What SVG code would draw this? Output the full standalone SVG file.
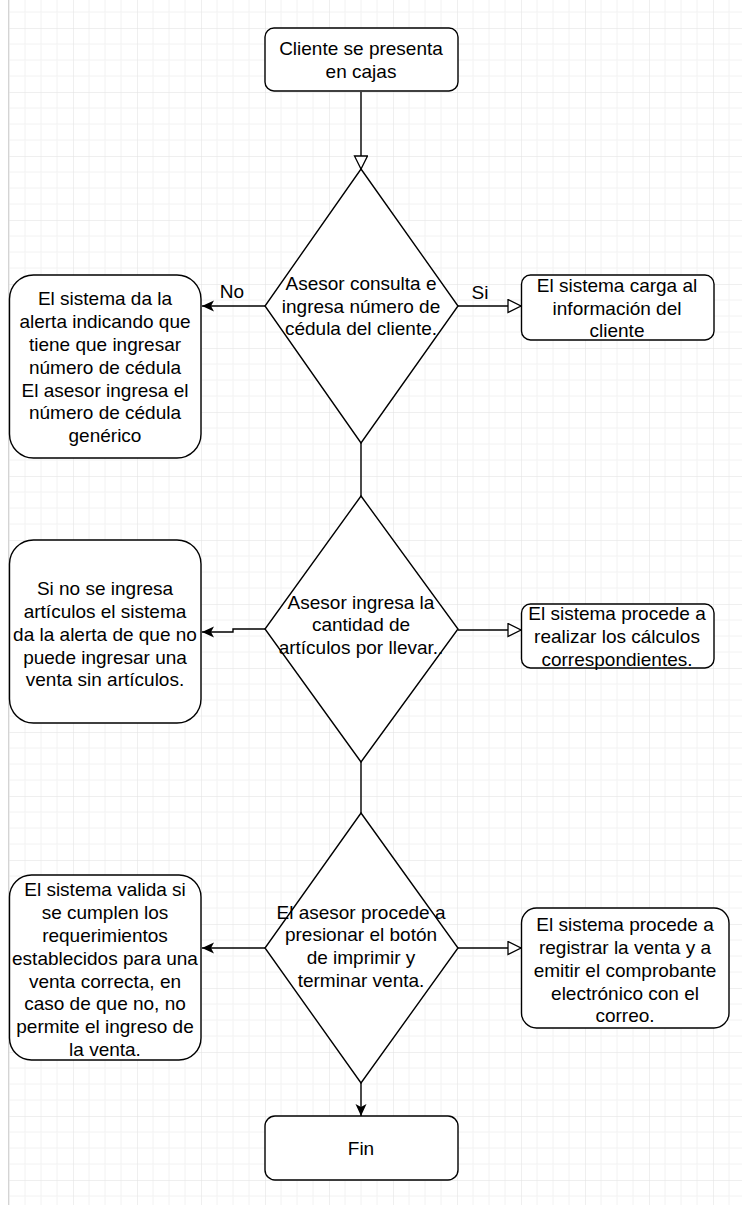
<svg xmlns="http://www.w3.org/2000/svg" width="742" height="1205" viewBox="0 0 742 1205">
<style>
.shape{fill:#fff;stroke:#000;stroke-width:1.4}
.conn{fill:none;stroke:#000;stroke-width:1.4}
text{font-family:"Liberation Sans",Arial,sans-serif;font-size:19px;fill:#000;text-anchor:middle}
</style>
<defs>
<pattern id="grid" patternUnits="userSpaceOnUse" x="9" y="28" width="64" height="64">
<path d="M16,0V64M32,0V64M48,0V64M0,16H64M0,32H64M0,48H64" fill="none" stroke="#f2f2f2" stroke-width="1"/>
<path d="M0,0V64M0,0H64" fill="none" stroke="#e0e0e0" stroke-width="1"/>
</pattern>
<marker id="open" markerUnits="userSpaceOnUse" markerWidth="16" markerHeight="16" refX="14" refY="7" orient="auto">
<path d="M1,0.5 L14,7 L1,13.5 Z" fill="#fff" stroke="#000" stroke-width="1.3"/>
</marker>
<marker id="fill" markerUnits="userSpaceOnUse" markerWidth="14" markerHeight="12" refX="12" refY="5.5" orient="auto">
<path d="M0,0 L12,5.5 L0,11 L3,5.5 Z" fill="#000"/>
</marker>
</defs>
<rect width="742" height="1205" fill="#fff"/>
<rect x="9" y="0" width="733" height="1205" fill="url(#grid)"/>
<line x1="8.5" y1="0" x2="8.5" y2="1205" stroke="#d4d4d4" stroke-width="1"/>

<g id="connectors">
<path class="conn" d="M361,92 V169" marker-end="url(#open)"/>
<path class="conn" d="M265,306 H202" marker-end="url(#fill)"/>
<path class="conn" d="M458,306 H521" marker-end="url(#open)"/>
<path class="conn" d="M361,443 V496"/>
<path class="conn" d="M265,629 H233 V632 H202" marker-end="url(#fill)"/>
<path class="conn" d="M458,630 H521" marker-end="url(#open)"/>
<path class="conn" d="M361,762 V813"/>
<path class="conn" d="M265,948 H202" marker-end="url(#fill)"/>
<path class="conn" d="M458,948 H521" marker-end="url(#open)"/>
<path class="conn" d="M361,1083 V1116" marker-end="url(#fill)"/>
<text x="232" y="298">No</text>
<text x="480" y="299">Si</text>
</g>

<g id="start">
<rect class="shape" x="265" y="28" width="193" height="63" rx="9"/>
<text x="361" y="54.8">Cliente se presenta</text>
<text x="361" y="77.6">en cajas</text>
</g>

<g id="decision1">
<path class="shape" d="M361,169 L458,306 L361,443 L265,306 Z"/>
<text x="361" y="289.7">Asesor consulta e</text>
<text x="361" y="312.5">ingresa número de</text>
<text x="361" y="335.3">cédula del cliente.</text>
</g>

<g id="alert1">
<rect class="shape" x="9.5" y="275" width="191.5" height="183" rx="24"/>
<text x="105" y="305.3">El sistema da la</text>
<text x="105" y="328.1">alerta indicando que</text>
<text x="105" y="350.9">tiene que ingresar</text>
<text x="105" y="373.7">número de cédula</text>
<text x="105" y="396.5">El asesor ingresa el</text>
<text x="105" y="419.3">número de cédula</text>
<text x="105" y="442.1">genérico</text>
</g>

<g id="load">
<rect class="shape" x="521.5" y="275" width="192.5" height="65" rx="9"/>
<text x="617" y="291.7">El sistema carga al</text>
<text x="617" y="314.5">información del</text>
<text x="617" y="337.3">cliente</text>
</g>

<g id="decision2">
<path class="shape" d="M361,496 L458,629 L361,762 L265,629 Z"/>
<text x="361" y="608.5">Asesor ingresa la</text>
<text x="361" y="631.3">cantidad de</text>
<text x="361" y="654.1">artículos por llevar..</text>
</g>

<g id="alert2">
<rect class="shape" x="9.5" y="540" width="191.5" height="183" rx="24"/>
<text x="105" y="595.1">Si no se ingresa</text>
<text x="105" y="617.9">artículos el sistema</text>
<text x="105" y="640.7">da la alerta de que no</text>
<text x="105" y="663.5">puede ingresar una</text>
<text x="105" y="686.3">venta sin artículos.</text>
</g>

<g id="calc">
<rect class="shape" x="521.5" y="604" width="192.5" height="64" rx="9"/>
<text x="617" y="620.4">El sistema procede a</text>
<text x="617" y="643.2">realizar los cálculos</text>
<text x="617" y="666">correspondientes.</text>
</g>

<g id="decision3">
<path class="shape" d="M361,813 L458,948 L361,1083 L265,948 Z"/>
<text x="361" y="918.5">El asesor procede a</text>
<text x="361" y="941.3">presionar el botón</text>
<text x="361" y="964.1">de imprimir y</text>
<text x="361" y="986.9">terminar venta.</text>
</g>

<g id="validate">
<rect class="shape" x="9.5" y="875" width="191.5" height="185" rx="22"/>
<text x="105" y="896.3">El sistema valida si</text>
<text x="105" y="919.1">se cumplen los</text>
<text x="105" y="941.9">requerimientos</text>
<text x="105" y="964.7">establecidos para una</text>
<text x="105" y="987.5">venta correcta, en</text>
<text x="105" y="1010.3">caso de que no, no</text>
<text x="105" y="1033.1">permite el ingreso de</text>
<text x="105" y="1055.9">la venta.</text>
</g>

<g id="register">
<rect class="shape" x="521.5" y="908" width="207.5" height="120" rx="15"/>
<text x="625" y="931.1">El sistema procede a</text>
<text x="625" y="953.9">registrar la venta y a</text>
<text x="625" y="976.7">emitir el comprobante</text>
<text x="625" y="999.5">electrónico con el</text>
<text x="625" y="1022.3">correo.</text>
</g>

<g id="end">
<rect class="shape" x="265" y="1116" width="193" height="64" rx="10"/>
<text x="361" y="1154.7">Fin</text>
</g>
</svg>
